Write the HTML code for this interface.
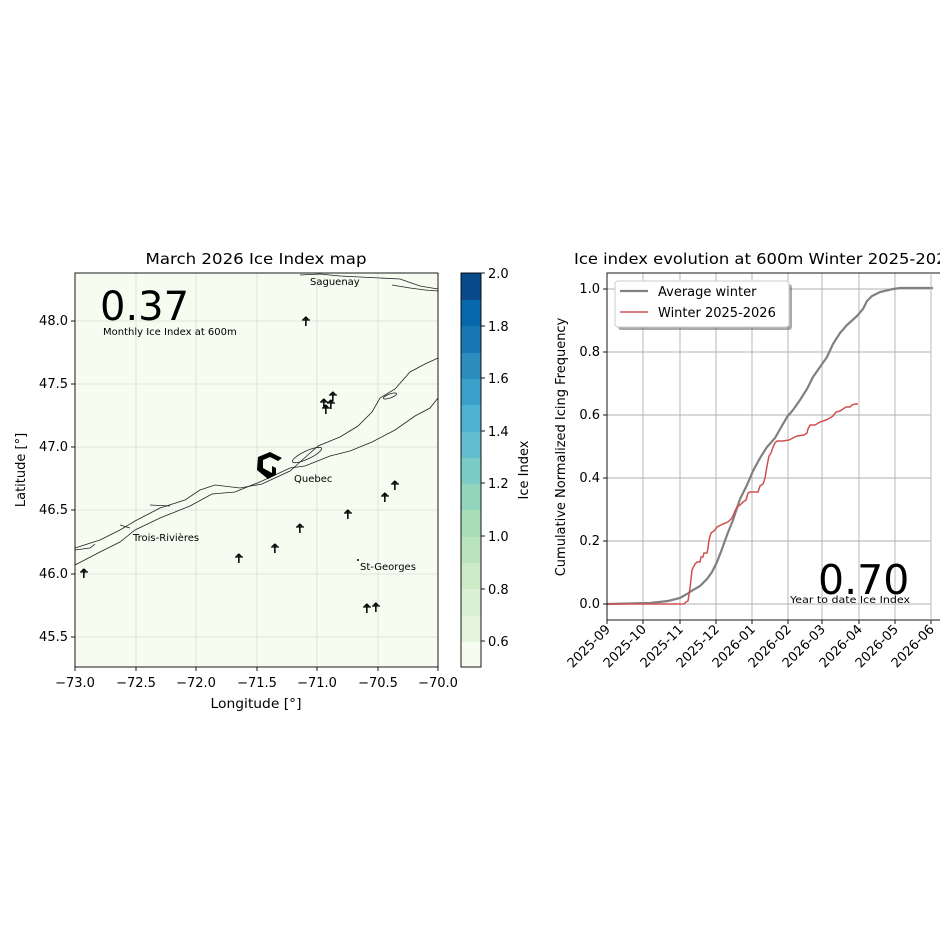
<!DOCTYPE html>
<html><head><meta charset="utf-8"><style>
body{margin:0;background:#fff}
svg text{font-family:"DejaVu Sans","Liberation Sans",sans-serif}
</style></head><body>
<svg width="940" height="940" xmlns="http://www.w3.org/2000/svg">
<rect width="940" height="940" fill="#fff"/>
<!-- LEFT MAP -->
<text x="256" y="264" font-size="15" text-anchor="middle" textLength="221" lengthAdjust="spacingAndGlyphs">March 2026 Ice Index map</text>
<rect x="75" y="273" width="363" height="394" fill="#f7fcf0"/>
<g stroke="#d8dcd4" stroke-width="0.8">
<line x1="136" y1="273" x2="136" y2="667"/><line x1="196" y1="273" x2="196" y2="667"/><line x1="257" y1="273" x2="257" y2="667"/><line x1="317" y1="273" x2="317" y2="667"/><line x1="378" y1="273" x2="378" y2="667"/>
<line x1="75" y1="321" x2="438" y2="321"/><line x1="75" y1="384" x2="438" y2="384"/><line x1="75" y1="447" x2="438" y2="447"/><line x1="75" y1="510" x2="438" y2="510"/><line x1="75" y1="574" x2="438" y2="574"/><line x1="75" y1="637" x2="438" y2="637"/>
</g>
<g fill="none" stroke="#222" stroke-width="0.8">
<polyline points="75,548 100,540 120,530 135,521 160,508 185,500 200,490 215,485 240,488 262,484 290,471 300,462 318,446 340,437 358,426 372,412 380,398 395,389 410,372 425,364 438,358"/>
<polyline points="75,565 100,552 120,542 135,530 160,518 190,506 212,494 235,492 262,481 290,468 305,466 330,456 350,451 372,442 395,430 415,416 430,408 438,398"/>
<polyline points="75,550 90,548 95,544"/>
<ellipse cx="307" cy="455" rx="16" ry="4" transform="rotate(-25 307 455)"/>
<ellipse cx="390" cy="396" rx="7" ry="2" transform="rotate(-20 390 396)"/>
<polyline points="300,275 320,274 340,276 360,277 380,278 400,279 420,286 438,289"/>
<polyline points="392,285 410,288 425,290 438,291"/>
<polyline points="150,505 170,506"/><polyline points="120,525 130,528"/>
</g>
<g font-size="13" text-anchor="middle" font-weight="bold">
<text x="306" y="326">↑</text><text x="324" y="408">↑</text><text x="326" y="414">↑</text><text x="331" y="409">↑</text><text x="333" y="401">↑</text><text x="84" y="578">↑</text><text x="239" y="563">↑</text><text x="275" y="553">↑</text><text x="300" y="533">↑</text><text x="348" y="519">↑</text><text x="385" y="502">↑</text><text x="395" y="490">↑</text><text x="367" y="613">↑</text><text x="376" y="612">↑</text>
</g>
<g stroke="#000" stroke-width="1.2">
<line x1="302" y1="320" x2="310" y2="320"/><line x1="320" y1="402" x2="328" y2="402"/><line x1="322" y1="408" x2="330" y2="408"/><line x1="327" y1="403" x2="335" y2="403"/><line x1="329" y1="395" x2="337" y2="395"/><line x1="80" y1="572" x2="88" y2="572"/><line x1="235" y1="557" x2="243" y2="557"/><line x1="271" y1="547" x2="279" y2="547"/><line x1="296" y1="527" x2="304" y2="527"/><line x1="344" y1="513" x2="352" y2="513"/><line x1="381" y1="496" x2="389" y2="496"/><line x1="391" y1="484" x2="399" y2="484"/><line x1="363" y1="607" x2="371" y2="607"/><line x1="372" y1="606" x2="380" y2="606"/>
</g>
<path d="M258,457 L270,452 L282,458 L278,461 L270,457 L263,460 L263,468 L272,473 L272,466 L276,468 L276,475 L268,479 L257,470 Z" fill="#000"/>
<text x="100" y="320" font-size="40">0.37</text>
<text x="103" y="335" font-size="10">Monthly Ice Index at 600m</text>
<g font-size="10">
<text x="310" y="285">Saguenay</text>
<text x="294" y="482">Quebec</text>
<text x="133" y="541">Trois-Rivières</text>
<text x="360" y="570">St-Georges</text>
</g>
<circle cx="358" cy="560" r="1" fill="#000"/>
<rect x="75" y="273" width="363" height="394" fill="none" stroke="#000" stroke-width="0.9"/>
<g stroke="#000" stroke-width="0.9">
<line x1="75" y1="667" x2="75" y2="671"/><line x1="136" y1="667" x2="136" y2="671"/><line x1="196" y1="667" x2="196" y2="671"/><line x1="257" y1="667" x2="257" y2="671"/><line x1="317" y1="667" x2="317" y2="671"/><line x1="378" y1="667" x2="378" y2="671"/><line x1="438" y1="667" x2="438" y2="671"/>
<line x1="71" y1="321" x2="75" y2="321"/><line x1="71" y1="384" x2="75" y2="384"/><line x1="71" y1="447" x2="75" y2="447"/><line x1="71" y1="510" x2="75" y2="510"/><line x1="71" y1="574" x2="75" y2="574"/><line x1="71" y1="637" x2="75" y2="637"/>
</g>
<g font-size="13" text-anchor="middle">
<text x="75" y="687">−73.0</text><text x="136" y="687">−72.5</text><text x="196" y="687">−72.0</text><text x="257" y="687">−71.5</text><text x="317" y="687">−71.0</text><text x="378" y="687">−70.5</text><text x="438" y="687">−70.0</text>
</g>
<g font-size="13" text-anchor="end">
<text x="68" y="325">48.0</text><text x="68" y="388">47.5</text><text x="68" y="451">47.0</text><text x="68" y="514">46.5</text><text x="68" y="578">46.0</text><text x="68" y="641">45.5</text>
</g>
<text x="256" y="708" font-size="13" text-anchor="middle" textLength="91" lengthAdjust="spacingAndGlyphs">Longitude [°]</text>
<text transform="translate(25 470) rotate(-90)" font-size="13" text-anchor="middle">Latitude [°]</text>
<!-- colorbar -->
<g>
<rect x="461" y="641" width="20" height="27" fill="#f7fcf0"/>
<rect x="461" y="615" width="20" height="27" fill="#e4f4de"/>
<rect x="461" y="589" width="20" height="27" fill="#daf0d4"/>
<rect x="461" y="562" width="20" height="27" fill="#ccebc6"/>
<rect x="461" y="536" width="20" height="27" fill="#bae4bc"/>
<rect x="461" y="510" width="20" height="27" fill="#a8ddb5"/>
<rect x="461" y="483" width="20" height="27" fill="#93d4bd"/>
<rect x="461" y="457" width="20" height="27" fill="#7bccc4"/>
<rect x="461" y="431" width="20" height="27" fill="#62bdce"/>
<rect x="461" y="405" width="20" height="27" fill="#4eb3d3"/>
<rect x="461" y="378" width="20" height="27" fill="#3a9fc9"/>
<rect x="461" y="352" width="20" height="27" fill="#2b8cbe"/>
<rect x="461" y="326" width="20" height="27" fill="#1777b5"/>
<rect x="461" y="299" width="20" height="27" fill="#0868ac"/>
<rect x="461" y="273" width="20" height="27" fill="#084a8a"/>
<rect x="461" y="273" width="20" height="394" fill="none" stroke="#000" stroke-width="0.9"/>
</g>
<g font-size="13">
<text x="488" y="278">2.0</text><text x="488" y="331">1.8</text><text x="488" y="383">1.6</text><text x="488" y="436">1.4</text><text x="488" y="488">1.2</text><text x="488" y="541">1.0</text><text x="488" y="594">0.8</text><text x="488" y="646">0.6</text>
</g>
<g stroke="#000" stroke-width="0.9"><line x1="481" y1="273" x2="485" y2="273"/><line x1="481" y1="326" x2="485" y2="326"/><line x1="481" y1="378" x2="485" y2="378"/><line x1="481" y1="431" x2="485" y2="431"/><line x1="481" y1="483" x2="485" y2="483"/><line x1="481" y1="536" x2="485" y2="536"/><line x1="481" y1="589" x2="485" y2="589"/><line x1="481" y1="641" x2="485" y2="641"/></g>
<text transform="translate(528 470) rotate(-90)" font-size="13" text-anchor="middle">Ice Index</text>

<!-- RIGHT CHART -->
<text x="574" y="264" font-size="15" textLength="383" lengthAdjust="spacingAndGlyphs">Ice index evolution at 600m Winter 2025-2026</text>
<g stroke="#b0b0b0" stroke-width="0.9">
<line x1="643" y1="273" x2="643" y2="620"/><line x1="680" y1="273" x2="680" y2="620"/><line x1="716" y1="273" x2="716" y2="620"/><line x1="752" y1="273" x2="752" y2="620"/><line x1="788" y1="273" x2="788" y2="620"/><line x1="822" y1="273" x2="822" y2="620"/><line x1="859" y1="273" x2="859" y2="620"/><line x1="895" y1="273" x2="895" y2="620"/>
<line x1="607" y1="604" x2="931" y2="604"/><line x1="607" y1="541" x2="931" y2="541"/><line x1="607" y1="478" x2="931" y2="478"/><line x1="607" y1="415" x2="931" y2="415"/><line x1="607" y1="352" x2="931" y2="352"/><line x1="607" y1="289" x2="931" y2="289"/>
</g>
<polyline fill="none" stroke="#808080" stroke-width="2.2" points="607,604 650,603 668,601 680,598 687,594 693,590 700,586 707,579 712,572 717,562 722,549 727,535 733,520 740,499 747,485 753,471 760,458 767,447 775,438 787,417 793,410 800,400 807,389 813,377 820,367 827,357 833,344 840,333 847,325 857,316 863,309 867,301 872,296 880,292 893,289 900,288 933,288"/>
<polyline fill="none" stroke="#d05050" stroke-width="1.5" points="607,604 684,604 686,602 688,601 690,588 692,570 695,564 697,562 700,562 701,557 703,557 704,553 707,553 708,548 709,540 711,533 714,531 717,527 723,524 728,522 732,518 735,511 737,507 740,505 743,502 746,500 748,493 750,492 758,492 760,486 763,484 765,478 767,466 769,456 771,453 773,447 775,443 777,441 783,441 789,440 793,438 797,436 804,435 807,433 808,429 810,425 815,425 820,422 826,420 830,418 833,416 836,412 840,411 843,409 846,407 850,407 852,405 855,404 858,404"/>
<rect x="607" y="273" width="340" height="347" fill="none" stroke="#000" stroke-width="0.9"/>
<line x1="931" y1="273" x2="931" y2="620" stroke="#b0b0b0" stroke-width="0.9"/>
<rect x="618" y="284" width="174" height="46" rx="3" fill="#555" opacity="0.5"/>
<rect x="615" y="281" width="174" height="46" rx="3" fill="#fff" stroke="#ccc"/>
<line x1="620" y1="291" x2="648" y2="291" stroke="#808080" stroke-width="2.2"/>
<line x1="620" y1="312" x2="648" y2="312" stroke="#d05050" stroke-width="1.5"/>
<text x="658" y="296" font-size="13">Average winter</text>
<text x="658" y="317" font-size="13">Winter 2025-2026</text>
<text x="818" y="594" font-size="41">0.70</text>
<text x="790" y="603" font-size="9.5" textLength="120" lengthAdjust="spacingAndGlyphs">Year to date Ice Index</text>
<g stroke="#000" stroke-width="0.9">
<line x1="603" y1="604" x2="607" y2="604"/><line x1="603" y1="541" x2="607" y2="541"/><line x1="603" y1="478" x2="607" y2="478"/><line x1="603" y1="415" x2="607" y2="415"/><line x1="603" y1="352" x2="607" y2="352"/><line x1="603" y1="289" x2="607" y2="289"/>
<line x1="607" y1="620" x2="607" y2="624"/><line x1="643" y1="620" x2="643" y2="624"/><line x1="680" y1="620" x2="680" y2="624"/><line x1="716" y1="620" x2="716" y2="624"/><line x1="752" y1="620" x2="752" y2="624"/><line x1="788" y1="620" x2="788" y2="624"/><line x1="822" y1="620" x2="822" y2="624"/><line x1="859" y1="620" x2="859" y2="624"/><line x1="895" y1="620" x2="895" y2="624"/><line x1="931" y1="620" x2="931" y2="624"/>
</g>
<g font-size="13" text-anchor="end">
<text x="600" y="608">0.0</text><text x="600" y="545">0.2</text><text x="600" y="482">0.4</text><text x="600" y="419">0.6</text><text x="600" y="356">0.8</text><text x="600" y="293">1.0</text>
</g>
<g font-size="13" text-anchor="end">
<text transform="translate(611 630) rotate(-45)">2025-09</text>
<text transform="translate(647 630) rotate(-45)">2025-10</text>
<text transform="translate(684 630) rotate(-45)">2025-11</text>
<text transform="translate(720 630) rotate(-45)">2025-12</text>
<text transform="translate(756 630) rotate(-45)">2026-01</text>
<text transform="translate(792 630) rotate(-45)">2026-02</text>
<text transform="translate(826 630) rotate(-45)">2026-03</text>
<text transform="translate(863 630) rotate(-45)">2026-04</text>
<text transform="translate(899 630) rotate(-45)">2026-05</text>
<text transform="translate(935 630) rotate(-45)">2026-06</text>
</g>
<text transform="translate(565 447) rotate(-90)" font-size="13" text-anchor="middle">Cumulative Normalized Icing Frequency</text>
</svg>
</body></html>
